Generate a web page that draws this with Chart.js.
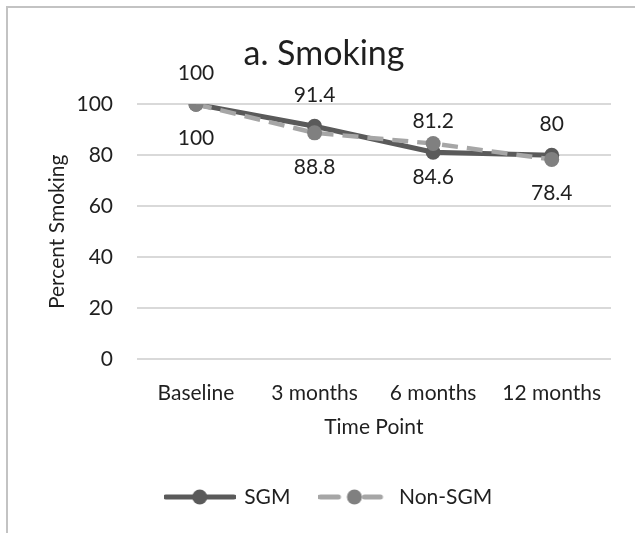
<!DOCTYPE html>
<html>
<head>
<meta charset="utf-8">
<script src="https://cdn.jsdelivr.net/npm/chart.js@4"></script>
<style>
  html, body { margin: 0; padding: 0; background: #ffffff; }
  #wrap { position: relative; width: 635px; height: 533px; }
</style>
</head>
<body>
<div id="wrap"><canvas id="chart" width="635" height="533"></canvas></div>
<script>
// Share of participants still smoking at each follow-up
const timePoints = ['Baseline', '3 months', '6 months', '12 months'];
const sgmValues = [100, 91.4, 81.2, 80];
const nonSgmValues = [100, 88.8, 84.6, 78.4];
const yTicks = [0, 20, 40, 60, 80, 100];

const FONT = 'Lato';
const TEXT = '#1f1f1f';
const SGM_COLOR = '#5a5a5a';
const NON_LINE = '#a6a6a6';
const NON_POINT = '#808080';

// Legend swatches: line with a marker in the middle
function swatch(kind) {
  const c = document.createElement('canvas');
  c.width = 72; c.height = 18;
  const g = c.getContext('2d');
  const cy = 9;
  if (kind === 'solid') {
    g.strokeStyle = SGM_COLOR; g.lineWidth = 5; g.lineCap = 'round';
    g.beginPath(); g.moveTo(2, cy); g.lineTo(70, cy); g.stroke();
    g.fillStyle = SGM_COLOR;
  } else {
    g.strokeStyle = NON_LINE; g.lineWidth = 5; g.lineCap = 'round';
    g.beginPath(); g.moveTo(2, cy); g.lineTo(20, cy); g.stroke();
    g.beginPath(); g.moveTo(46, cy); g.lineTo(62, cy); g.stroke();
    g.fillStyle = NON_POINT;
  }
  g.beginPath(); g.arc(36, cy, 7.5, 0, Math.PI * 2); g.fill();
  return c;
}

// Thin frame along the top and left edges
const framePlugin = {
  id: 'frame',
  beforeDraw(chart) {
    const ctx = chart.ctx;
    ctx.save();
    ctx.fillStyle = '#ffffff';
    ctx.fillRect(0, 0, chart.width, chart.height);
    ctx.fillStyle = '#c3c3c3';
    ctx.fillRect(6, 6, chart.width, 2);
    ctx.fillRect(6, 6, 2, chart.height);
    ctx.restore();
  }
};

// Nudge the legend row a little to the right of the centred position
const legendNudge = {
  id: 'legendNudge',
  afterLayout(chart) {
    if (chart.legend) {
      chart.legend.left += 5;
      chart.legend.right += 5;
    }
  }
};

// Value labels: SGM above its points, Non-SGM below
const valueLabels = {
  id: 'valueLabels',
  afterDatasetsDraw(chart) {
    const ctx = chart.ctx;
    ctx.save();
    ctx.font = '21px ' + FONT;
    ctx.fillStyle = TEXT;
    ctx.textAlign = 'center';
    ctx.textBaseline = 'middle';
    chart.data.datasets.forEach((ds, i) => {
      const meta = chart.getDatasetMeta(i);
      const shift = ds.labelSide === 'above' ? -31 : 34;
      meta.data.forEach((pt, j) => {
        ctx.fillText(String(ds.data[j]), pt.x, pt.y + shift);
      });
    });
    ctx.restore();
  }
};

const chart = new Chart(document.getElementById('chart'), {
  type: 'line',
  data: {
    labels: timePoints,
    datasets: [
      {
        label: 'SGM',
        data: sgmValues,
        labelSide: 'above',
        order: 1,
        borderColor: SGM_COLOR,
        backgroundColor: SGM_COLOR,
        borderWidth: 5,
        pointRadius: 7.5,
        pointBorderWidth: 0,
        pointBackgroundColor: SGM_COLOR,
        tension: 0,
        legendSwatch: swatch('solid')
      },
      {
        label: 'Non-SGM',
        data: nonSgmValues,
        labelSide: 'below',
        order: 0,
        borderColor: NON_LINE,
        backgroundColor: NON_POINT,
        borderWidth: 4.5,
        borderDash: [16, 9],
        pointRadius: 7.5,
        pointBorderWidth: 0,
        pointBackgroundColor: NON_POINT,
        tension: 0,
        legendSwatch: swatch('dash')
      }
    ]
  },
  options: {
    responsive: false,
    animation: false,
    layout: { padding: { left: 37, right: 24, top: 12, bottom: 15.5 } },
    plugins: {
      title: {
        display: true,
        text: 'a. Smoking',
        color: TEXT,
        font: { family: FONT, size: 34, weight: 'normal' },
        padding: { top: 22, bottom: 29.5 }
      },
      legend: {
        position: 'bottom',
        labels: {
          usePointStyle: true,
          pointStyleWidth: 68,
          padding: 30,
          color: TEXT,
          font: { family: FONT, size: 21 },
          generateLabels(ch) {
            return ch.data.datasets.map((ds, i) => ({
              text: ds.label,
              datasetIndex: i,
              pointStyle: ds.legendSwatch,
              fillStyle: ds.backgroundColor,
              strokeStyle: ds.borderColor,
              lineWidth: 0,
              fontColor: TEXT,
              hidden: false
            }));
          }
        }
      },
      tooltip: { enabled: false }
    },
    scales: {
      x: {
        offset: true,
        grid: { display: false, drawTicks: false },
        border: { display: false },
        ticks: { color: TEXT, font: { family: FONT, size: 21 }, padding: 21, maxRotation: 0 },
        title: {
          display: true,
          text: 'Time Point',
          color: TEXT,
          font: { family: FONT, size: 21 },
          padding: { top: 0, bottom: 16.4 }
        },
        afterFit(scale) { scale.height = 97.2; }
      },
      y: {
        min: 0,
        max: 100,
        afterBuildTicks(scale) { scale.ticks = yTicks.map(v => ({ value: v })); },
        grid: { color: '#d9d9d9', lineWidth: 2, drawTicks: false },
        border: { display: false },
        ticks: { color: TEXT, font: { family: FONT, size: 21 }, padding: 23.7 },
        title: {
          display: true,
          text: 'Percent Smoking',
          color: TEXT,
          font: { family: FONT, size: 21 },
          padding: { top: 7.4, bottom: 0 }
        },
        afterFit(scale) { scale.width = 99.7; }
      }
    }
  },
  plugins: [framePlugin, legendNudge, valueLabels]
});
</script>
</body>
</html>
